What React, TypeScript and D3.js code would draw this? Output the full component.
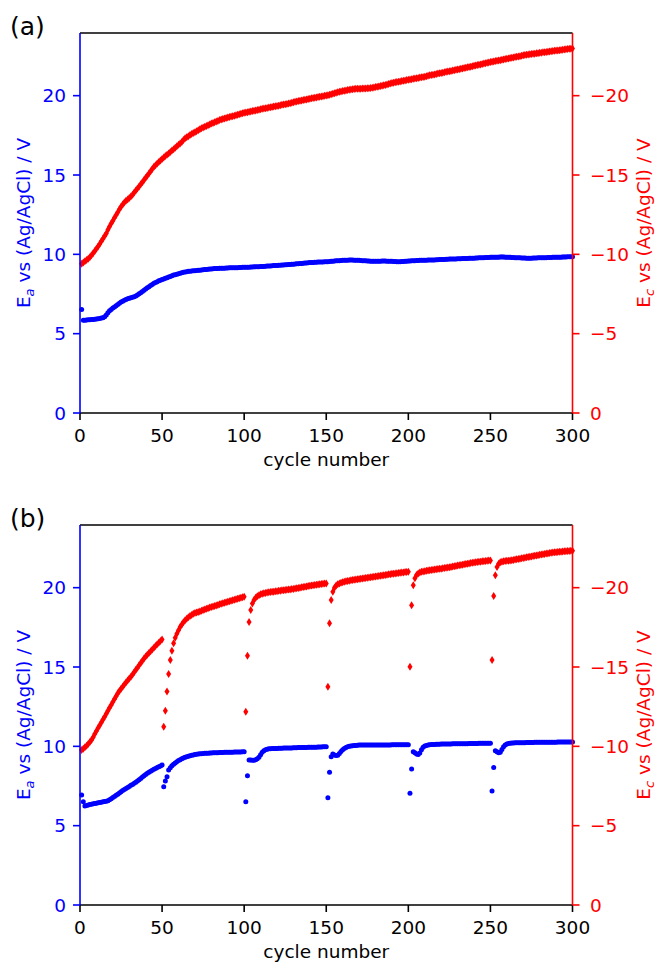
import * as d3 from "d3";

// cycle numbers 1..300
const cycles = d3.range(1, 301);

// panel (a): E_a (V) per cycle
const eaA = [
  6.53, 5.84, 5.85, 5.86, 5.87, 5.88, 5.89, 5.90, 5.91, 5.92,
  5.94, 5.96, 5.98, 6.01, 6.06, 6.18, 6.32, 6.44, 6.53, 6.61,
  6.68, 6.76, 6.84, 6.92, 6.99, 7.05, 7.10, 7.15, 7.20, 7.24,
  7.27, 7.30, 7.33, 7.38, 7.44, 7.51, 7.58, 7.66, 7.74, 7.82,
  7.89, 7.96, 8.03, 8.10, 8.17, 8.23, 8.28, 8.33, 8.37, 8.41,
  8.45, 8.49, 8.53, 8.57, 8.61, 8.65, 8.69, 8.72, 8.75, 8.78,
  8.81, 8.84, 8.87, 8.89, 8.91, 8.93, 8.94, 8.95, 8.96, 8.97,
  8.98, 8.99, 9.00, 9.02, 9.03, 9.04, 9.05, 9.06, 9.07, 9.08,
  9.09, 9.10, 9.10, 9.11, 9.12, 9.12, 9.13, 9.13, 9.14, 9.14,
  9.15, 9.15, 9.15, 9.16, 9.16, 9.16, 9.17, 9.17, 9.18, 9.18,
  9.18, 9.19, 9.19, 9.20, 9.20, 9.21, 9.21, 9.22, 9.22, 9.23,
  9.23, 9.24, 9.25, 9.26, 9.26, 9.27, 9.28, 9.29, 9.30, 9.30,
  9.31, 9.32, 9.33, 9.33, 9.34, 9.35, 9.36, 9.36, 9.37, 9.38,
  9.39, 9.40, 9.41, 9.42, 9.43, 9.44, 9.45, 9.46, 9.47, 9.48,
  9.48, 9.49, 9.50, 9.50, 9.51, 9.51, 9.52, 9.52, 9.53, 9.53,
  9.54, 9.55, 9.56, 9.57, 9.58, 9.59, 9.60, 9.60, 9.61, 9.62,
  9.62, 9.63, 9.63, 9.64, 9.64, 9.64, 9.63, 9.63, 9.62, 9.62,
  9.61, 9.60, 9.60, 9.59, 9.58, 9.58, 9.57, 9.57, 9.57, 9.57,
  9.56, 9.57, 9.57, 9.58, 9.58, 9.58, 9.57, 9.57, 9.56, 9.56,
  9.55, 9.55, 9.54, 9.54, 9.54, 9.55, 9.55, 9.56, 9.57, 9.58,
  9.58, 9.59, 9.60, 9.60, 9.61, 9.61, 9.62, 9.62, 9.63, 9.63,
  9.63, 9.64, 9.64, 9.64, 9.65, 9.65, 9.66, 9.66, 9.67, 9.67,
  9.68, 9.68, 9.69, 9.69, 9.70, 9.70, 9.70, 9.71, 9.71, 9.72,
  9.72, 9.72, 9.73, 9.73, 9.74, 9.74, 9.75, 9.75, 9.76, 9.76,
  9.77, 9.77, 9.78, 9.78, 9.79, 9.79, 9.80, 9.80, 9.80, 9.81,
  9.81, 9.81, 9.82, 9.82, 9.82, 9.83, 9.83, 9.83, 9.82, 9.82,
  9.81, 9.81, 9.80, 9.80, 9.79, 9.79, 9.78, 9.78, 9.77, 9.77,
  9.77, 9.76, 9.76, 9.76, 9.76, 9.77, 9.77, 9.77, 9.78, 9.78,
  9.78, 9.79, 9.79, 9.79, 9.80, 9.80, 9.80, 9.81, 9.81, 9.81,
  9.82, 9.82, 9.82, 9.83, 9.83, 9.83, 9.84, 9.84, 9.84, 9.85,
];

// panel (a): -E_c (V) per cycle
const ecA = [
  9.40, 9.48, 9.56, 9.64, 9.72, 9.82, 9.94, 10.07, 10.21, 10.35,
  10.50, 10.65, 10.82, 10.99, 11.15, 11.32, 11.55, 11.75, 11.95, 12.12,
  12.30, 12.48, 12.66, 12.84, 13.00, 13.14, 13.26, 13.37, 13.46, 13.55,
  13.64, 13.76, 13.89, 14.02, 14.15, 14.28, 14.41, 14.54, 14.68, 14.82,
  14.96, 15.10, 15.24, 15.38, 15.52, 15.62, 15.72, 15.82, 15.92, 16.01,
  16.10, 16.19, 16.28, 16.36, 16.45, 16.54, 16.63, 16.72, 16.81, 16.90,
  16.99, 17.08, 17.20, 17.31, 17.38, 17.45, 17.52, 17.58, 17.64, 17.70,
  17.76, 17.82, 17.88, 17.94, 17.99, 18.04, 18.09, 18.14, 18.19, 18.24,
  18.28, 18.32, 18.37, 18.41, 18.46, 18.50, 18.53, 18.56, 18.59, 18.62,
  18.65, 18.68, 18.71, 18.74, 18.77, 18.80, 18.83, 18.86, 18.89, 18.92,
  18.94, 18.96, 18.98, 19.00, 19.03, 19.05, 19.07, 19.10, 19.12, 19.14,
  19.17, 19.19, 19.21, 19.23, 19.25, 19.27, 19.29, 19.31, 19.33, 19.35,
  19.37, 19.39, 19.42, 19.44, 19.46, 19.48, 19.51, 19.53, 19.56, 19.59,
  19.62, 19.64, 19.66, 19.68, 19.70, 19.72, 19.74, 19.76, 19.79, 19.81,
  19.83, 19.85, 19.87, 19.89, 19.91, 19.93, 19.95, 19.97, 19.99, 20.01,
  20.03, 20.06, 20.09, 20.12, 20.15, 20.18, 20.21, 20.24, 20.27, 20.29,
  20.31, 20.33, 20.35, 20.37, 20.39, 20.41, 20.42, 20.43, 20.43, 20.44,
  20.44, 20.45, 20.45, 20.45, 20.46, 20.47, 20.48, 20.50, 20.52, 20.54,
  20.56, 20.58, 20.61, 20.63, 20.66, 20.68, 20.71, 20.74, 20.77, 20.80,
  20.82, 20.84, 20.86, 20.88, 20.90, 20.92, 20.94, 20.96, 20.98, 21.00,
  21.02, 21.04, 21.06, 21.08, 21.10, 21.12, 21.14, 21.16, 21.18, 21.20,
  21.22, 21.25, 21.28, 21.30, 21.32, 21.34, 21.37, 21.39, 21.41, 21.43,
  21.45, 21.48, 21.50, 21.52, 21.54, 21.56, 21.59, 21.61, 21.63, 21.65,
  21.67, 21.69, 21.72, 21.74, 21.76, 21.79, 21.81, 21.83, 21.86, 21.88,
  21.90, 21.93, 21.95, 21.97, 22.00, 22.02, 22.04, 22.07, 22.09, 22.12,
  22.14, 22.16, 22.18, 22.20, 22.22, 22.24, 22.26, 22.28, 22.31, 22.33,
  22.35, 22.37, 22.39, 22.41, 22.43, 22.45, 22.47, 22.49, 22.51, 22.54,
  22.56, 22.58, 22.59, 22.61, 22.62, 22.64, 22.65, 22.67, 22.68, 22.70,
  22.71, 22.73, 22.74, 22.76, 22.77, 22.79, 22.80, 22.81, 22.83, 22.84,
  22.85, 22.87, 22.88, 22.89, 22.91, 22.92, 22.94, 22.95, 22.96, 22.98,
];

// panel (b): E_a (V) per cycle, interrupted every 50 cycles
const eaB = [
  6.93, 6.51, 6.24, 6.27, 6.30, 6.33, 6.35, 6.38, 6.40, 6.42,
  6.44, 6.46, 6.48, 6.50, 6.52, 6.54, 6.57, 6.63, 6.70, 6.77,
  6.84, 6.91, 6.98, 7.06, 7.14, 7.21, 7.28, 7.34, 7.41, 7.47,
  7.54, 7.60, 7.67, 7.74, 7.82, 7.90, 7.98, 8.06, 8.14, 8.22,
  8.30, 8.37, 8.43, 8.49, 8.55, 8.61, 8.66, 8.71, 8.76, 8.82,
  7.45, 7.81, 8.09, 8.51, 8.65, 8.77, 8.87, 8.95, 9.03, 9.10,
  9.16, 9.21, 9.26, 9.31, 9.35, 9.38, 9.41, 9.44, 9.46, 9.48,
  9.50, 9.51, 9.53, 9.54, 9.55, 9.56, 9.57, 9.57, 9.58, 9.58,
  9.59, 9.59, 9.60, 9.60, 9.61, 9.61, 9.61, 9.62, 9.62, 9.62,
  9.63, 9.63, 9.63, 9.64, 9.64, 9.64, 9.65, 9.65, 9.66, 9.66,
  6.51, 8.15, 9.14, 9.14, 9.12, 9.13, 9.16, 9.22, 9.32, 9.47,
  9.62, 9.72, 9.78, 9.82, 9.84, 9.85, 9.86, 9.86, 9.87, 9.87,
  9.88, 9.88, 9.88, 9.89, 9.89, 9.89, 9.90, 9.90, 9.90, 9.91,
  9.91, 9.91, 9.92, 9.92, 9.92, 9.93, 9.93, 9.93, 9.94, 9.94,
  9.94, 9.95, 9.95, 9.95, 9.96, 9.96, 9.96, 9.97, 9.97, 9.98,
  6.76, 8.36, 9.35, 9.51, 9.46, 9.42, 9.44, 9.55, 9.68, 9.79,
  9.87, 9.93, 9.97, 10.00, 10.02, 10.04, 10.05, 10.06, 10.07, 10.08,
  10.08, 10.08, 10.08, 10.09, 10.09, 10.09, 10.09, 10.09, 10.09, 10.09,
  10.09, 10.09, 10.09, 10.09, 10.09, 10.09, 10.09, 10.09, 10.09, 10.10,
  10.10, 10.10, 10.10, 10.10, 10.10, 10.10, 10.10, 10.10, 10.10, 10.10,
  7.04, 8.57, 9.66, 9.60, 9.52, 9.49, 9.58, 9.78, 9.94, 10.02,
  10.06, 10.08, 10.10, 10.11, 10.12, 10.12, 10.13, 10.13, 10.13, 10.14,
  10.14, 10.14, 10.15, 10.15, 10.15, 10.15, 10.16, 10.16, 10.16, 10.16,
  10.16, 10.17, 10.17, 10.17, 10.17, 10.17, 10.18, 10.18, 10.18, 10.18,
  10.18, 10.18, 10.19, 10.19, 10.19, 10.19, 10.19, 10.19, 10.19, 10.19,
  7.18, 8.67, 9.72, 9.66, 9.60, 9.62, 9.80, 9.97, 10.09, 10.15,
  10.18, 10.20, 10.21, 10.21, 10.22, 10.22, 10.22, 10.23, 10.23, 10.23,
  10.23, 10.24, 10.24, 10.24, 10.24, 10.24, 10.25, 10.25, 10.25, 10.25,
  10.25, 10.25, 10.26, 10.26, 10.26, 10.26, 10.26, 10.26, 10.26, 10.26,
  10.27, 10.27, 10.27, 10.27, 10.27, 10.27, 10.27, 10.27, 10.27, 10.27,
];

// panel (b): -E_c (V) per cycle
const ecB = [
  9.77, 9.85, 9.94, 10.04, 10.15, 10.27, 10.40, 10.58, 10.77, 10.96,
  11.15, 11.33, 11.51, 11.69, 11.87, 12.05, 12.24, 12.43, 12.61, 12.80,
  12.98, 13.16, 13.34, 13.49, 13.63, 13.76, 13.89, 14.02, 14.15, 14.27,
  14.39, 14.53, 14.67, 14.82, 14.96, 15.11, 15.25, 15.40, 15.54, 15.66,
  15.78, 15.89, 16.00, 16.11, 16.22, 16.33, 16.43, 16.53, 16.64, 16.74,
  11.24, 12.25, 13.46, 14.56, 15.44, 16.03, 16.49, 16.85, 17.10, 17.32,
  17.52, 17.68, 17.82, 17.94, 18.04, 18.13, 18.21, 18.28, 18.35, 18.41,
  18.44, 18.47, 18.50, 18.55, 18.59, 18.63, 18.67, 18.71, 18.75, 18.78,
  18.81, 18.85, 18.88, 18.91, 18.95, 18.98, 19.02, 19.05, 19.08, 19.12,
  19.15, 19.18, 19.21, 19.24, 19.27, 19.30, 19.33, 19.37, 19.40, 19.43,
  12.18, 15.71, 17.83, 18.59, 19.00, 19.22, 19.36, 19.46, 19.53, 19.58,
  19.62, 19.65, 19.67, 19.69, 19.71, 19.72, 19.74, 19.75, 19.77, 19.78,
  19.80, 19.81, 19.83, 19.84, 19.85, 19.87, 19.88, 19.89, 19.91, 19.92,
  19.94, 19.96, 19.98, 20.00, 20.02, 20.04, 20.06, 20.08, 20.10, 20.12,
  20.14, 20.16, 20.17, 20.19, 20.20, 20.22, 20.23, 20.24, 20.26, 20.27,
  13.76, 17.75, 19.22, 19.74, 20.00, 20.14, 20.22, 20.27, 20.31, 20.34,
  20.37, 20.40, 20.42, 20.44, 20.46, 20.48, 20.50, 20.52, 20.53, 20.55,
  20.56, 20.58, 20.60, 20.61, 20.63, 20.64, 20.66, 20.67, 20.69, 20.71,
  20.72, 20.74, 20.75, 20.77, 20.79, 20.80, 20.82, 20.84, 20.85, 20.87,
  20.88, 20.90, 20.91, 20.92, 20.94, 20.95, 20.96, 20.98, 20.99, 21.00,
  15.02, 18.90, 20.16, 20.60, 20.80, 20.90, 20.96, 21.00, 21.02, 21.04,
  21.06, 21.08, 21.10, 21.11, 21.13, 21.14, 21.16, 21.17, 21.19, 21.20,
  21.22, 21.24, 21.25, 21.27, 21.29, 21.31, 21.33, 21.35, 21.37, 21.39,
  21.41, 21.43, 21.45, 21.47, 21.49, 21.51, 21.53, 21.55, 21.57, 21.59,
  21.60, 21.62, 21.63, 21.64, 21.66, 21.67, 21.68, 21.70, 21.71, 21.72,
  15.44, 19.47, 20.79, 21.30, 21.50, 21.60, 21.64, 21.66, 21.68, 21.69,
  21.70, 21.72, 21.73, 21.75, 21.77, 21.79, 21.81, 21.83, 21.85, 21.87,
  21.89, 21.91, 21.93, 21.95, 21.97, 21.99, 22.01, 22.03, 22.05, 22.07,
  22.09, 22.11, 22.13, 22.15, 22.16, 22.18, 22.20, 22.21, 22.23, 22.24,
  22.25, 22.26, 22.27, 22.28, 22.29, 22.30, 22.31, 22.31, 22.32, 22.33,
];

const xTicks = [0, 50, 100, 150, 200, 250, 300];
const leftTicks = [0, 5, 10, 15, 20];
const rightTicks = [0, 5, 10, 15, 20];
const rightTickLabels = ["0", "\u22125", "\u221210", "\u221215", "\u221220"];

const BLUE = "#0000ff";
const RED = "#ff0000";
const FONT = "DejaVu Sans";
const FS = 18.5;

function Panel({ tag, ea, ec, top }: { tag: string; ea: number[]; ec: number[]; top: number }) {
  const left = 80, right = 572.5, h = 380;
  const x = d3.scaleLinear().domain([0, 300]).range([left, right]);
  const y = d3.scaleLinear().domain([0, 23.95]).range([top + h, top]);
  // thin diamond marker
  const diamond = "M0,-4L2.5,0L0,4L-2.5,0Z";

  return (
    <g fontFamily={FONT} fontSize={FS}>
      <text x={10} y={top + 2} fontSize={25}>{tag}</text>

      {ec.map((v, i) => (
        <path key={"r" + i} d={diamond} fill={RED}
          transform={`translate(${x(cycles[i])},${y(v)})`} />
      ))}
      {ea.map((v, i) => (
        <circle key={"b" + i} cx={x(cycles[i])} cy={y(v)} r={2.5} fill={BLUE} />
      ))}

      {/* spines */}
      <line x1={left} x2={right} y1={top} y2={top} stroke="#000" strokeWidth={1.6} />
      <line x1={left} x2={right} y1={top + h} y2={top + h} stroke="#000" strokeWidth={1.6} />
      <line x1={left} x2={left} y1={top} y2={top + h} stroke={BLUE} strokeWidth={1.6} />
      <line x1={right} x2={right} y1={top} y2={top + h} stroke={RED} strokeWidth={1.6} />

      {/* x axis */}
      {xTicks.map((t) => (
        <g key={"x" + t}>
          <line x1={x(t)} x2={x(t)} y1={top + h} y2={top + h + 7} stroke="#000" strokeWidth={1.6} />
          <text x={x(t)} y={top + h + 28.5} textAnchor="middle">{t}</text>
        </g>
      ))}
      <text x={(left + right) / 2} y={top + h + 53} textAnchor="middle">cycle number</text>

      {/* left axis */}
      {leftTicks.map((t) => (
        <g key={"l" + t}>
          <line x1={left - 7} x2={left} y1={y(t)} y2={y(t)} stroke={BLUE} strokeWidth={1.6} />
          <text x={left - 14} y={y(t)} dy="0.36em" textAnchor="end" fill={BLUE}>{t}</text>
        </g>
      ))}
      <text transform={`translate(30,${top + h / 2}) rotate(-90)`} textAnchor="middle" fill={BLUE}>
        E<tspan fontSize={13} fontStyle="italic" dy={4}>a</tspan><tspan dy={-4}> vs (Ag/AgCl) / V</tspan>
      </text>

      {/* right axis */}
      {rightTicks.map((t, i) => (
        <g key={"r" + t}>
          <line x1={right} x2={right + 7} y1={y(t)} y2={y(t)} stroke={RED} strokeWidth={1.6} />
          <text x={right + 17.5} y={y(t)} dy="0.36em" fill={RED}>{rightTickLabels[i]}</text>
        </g>
      ))}
      <text transform={`translate(650,${top + h / 2}) rotate(-90)`} textAnchor="middle" fill={RED}>
        E<tspan fontSize={13} fontStyle="italic" dy={4}>c</tspan><tspan dy={-4}> vs (Ag/AgCl) / V</tspan>
      </text>
    </g>
  );
}

export default function App() {
  return (
    <svg width={656} height={962} style={{ position: "absolute", left: 0, top: 0, background: "#fff" }}>
      <Panel tag="(a)" ea={eaA} ec={ecA} top={33} />
      <Panel tag="(b)" ea={eaB} ec={ecB} top={525} />
    </svg>
  );
}
